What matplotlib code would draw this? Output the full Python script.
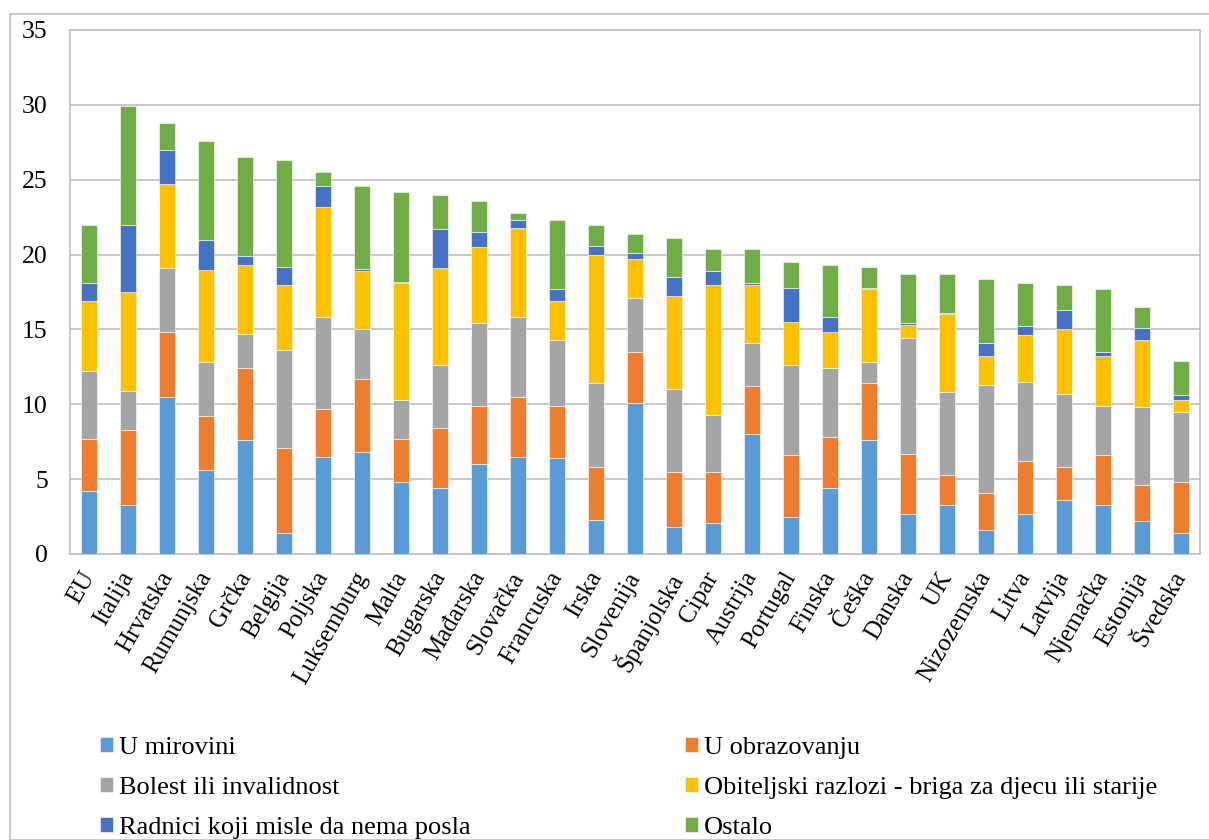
import matplotlib
matplotlib.use("Agg")
import matplotlib.pyplot as plt
from matplotlib.patches import Rectangle
from matplotlib.transforms import ScaledTranslation
import numpy as np

plt.rcParams['font.family'] = ['Liberation Serif', 'DejaVu Serif']

countries = ["EU", "Italija", "Hrvatska", "Rumunjska", "Grčka", "Belgija", "Poljska",
             "Luksemburg", "Malta", "Bugarska", "Mađarska", "Slovačka", "Francuska",
             "Irska", "Slovenija", "Španjolska", "Cipar", "Austrija", "Portugal",
             "Finska", "Češka", "Danska", "UK", "Nizozemska", "Litva", "Latvija",
             "Njemačka", "Estonija", "Švedska"]

u_mirovini = [4.2, 3.3, 10.5, 5.6, 7.6, 1.4, 6.5, 6.8, 4.8, 4.4, 6.0, 6.5, 6.4,
              2.3, 10.1, 1.8, 2.1, 8.0, 2.5, 4.4, 7.6, 2.7, 3.3, 1.6, 2.7, 3.6,
              3.3, 2.2, 1.4]
u_obrazovanju = [3.5, 5.0, 4.3, 3.6, 4.8, 5.7, 3.2, 4.9, 2.9, 4.0, 3.9, 4.0, 3.5,
                 3.5, 3.4, 3.7, 3.4, 3.2, 4.1, 3.4, 3.8, 4.0, 2.0, 2.5, 3.5, 2.2,
                 3.3, 2.4, 3.4]
bolest = [4.5, 2.6, 4.3, 3.6, 2.3, 6.5, 6.1, 3.3, 2.6, 4.2, 5.5, 5.3, 4.4,
          5.6, 3.6, 5.5, 3.8, 2.9, 6.0, 4.6, 1.4, 7.7, 5.5, 7.2, 5.3, 4.9,
          3.3, 5.2, 4.7]
obiteljski = [4.7, 6.6, 5.6, 6.2, 4.6, 4.4, 7.4, 3.9, 7.8, 6.5, 5.1, 6.0, 2.6,
              8.6, 2.6, 6.2, 8.7, 3.9, 2.9, 2.4, 4.9, 0.9, 5.2, 1.9, 3.1, 4.3,
              3.3, 4.5, 0.8]
radnici = [1.2, 4.5, 2.3, 2.0, 0.6, 1.2, 1.4, 0.15, 0.1, 2.6, 1.0, 0.5, 0.8,
           0.6, 0.4, 1.3, 0.9, 0.1, 2.3, 1.0, 0.1, 0.1, 0.1, 0.9, 0.6, 1.3,
           0.3, 0.8, 0.3]
ostalo = [3.9, 7.9, 1.8, 6.6, 6.6, 7.1, 0.9, 5.5, 6.0, 2.3, 2.1, 0.5, 4.6,
          1.4, 1.3, 2.6, 1.5, 2.3, 1.7, 3.5, 1.4, 3.3, 2.6, 4.3, 2.9, 1.7,
          4.2, 1.4, 2.3]

series_names = ["U mirovini", "U obrazovanju", "Bolest ili invalidnost",
                "Obiteljski razlozi - briga za djecu ili starije",
                "Radnici koji misle da nema posla", "Ostalo"]
series_vals = [u_mirovini, u_obrazovanju, bolest, obiteljski, radnici, ostalo]
colors = ["#5B9BD5", "#ED7D31", "#A5A5A5", "#FFC000", "#4472C4", "#70AD47"]

fig = plt.figure(figsize=(12.09, 8.40), dpi=100)
fig.patches.append(Rectangle((10/1209, 0), 1.2, 1 - 14/840, transform=fig.transFigure,
                             fill=False, edgecolor="#BFBFBF", linewidth=1.2, zorder=0))
ax = fig.add_axes([70/1209, 1 - 554/840, 1130/1209, 524/840])

x = np.arange(len(countries))
bottom = np.zeros(len(countries))
handles = []
for name, vals, c in zip(series_names, series_vals, colors):
    b = ax.bar(x, vals, width=0.41, bottom=bottom, color=c, edgecolor="white",
               linewidth=0.4, label=name, zorder=3)
    handles.append(b)
    bottom += np.array(vals)

ax.set_xlim(-0.5, len(countries) - 0.5)
ax.set_ylim(0, 35)
ax.set_yticks(range(0, 36, 5))
ax.yaxis.grid(True, color="#BFBFBF", linewidth=1.2, zorder=0)
ax.set_axisbelow(True)
for s in ax.spines.values():
    s.set_color("#BFBFBF")
    s.set_linewidth(1.2)
ax.tick_params(axis='both', length=0)
ax.tick_params(axis='y', pad=16, labelsize=18.5)
ax.set_xticks(x)
ax.set_xticklabels(countries, rotation=60, ha='right', rotation_mode='anchor',
                   fontsize=18)
ax.tick_params(axis='x', pad=10)
off = ScaledTranslation(-9/100, 0, fig.dpi_scale_trans)
for lbl in ax.get_xticklabels():
    lbl.set_transform(lbl.get_transform() + off)

order = [0, 2, 4, 1, 3, 5]
leg = fig.legend([handles[i] for i in order], [series_names[i] for i in order],
                 loc='upper left', bbox_to_anchor=(100/1209, 1 - 737/840), ncol=2,
                 frameon=False, fontsize=19, handlelength=0.5, handleheight=0.5,
                 handletextpad=0.23, labelspacing=0.68, columnspacing=8.1,
                 borderaxespad=0, borderpad=0)

fig.savefig("out.png", dpi=100)
